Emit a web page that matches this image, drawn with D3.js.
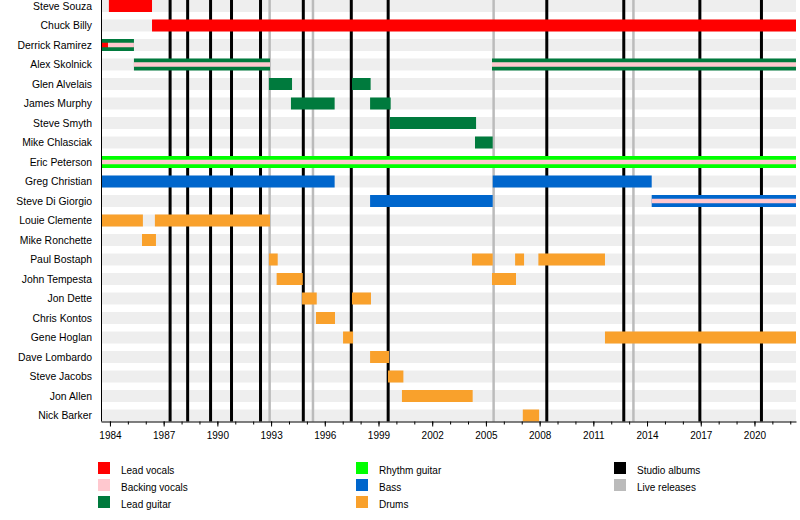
<!DOCTYPE html>
<html>
<head>
<meta charset="utf-8">
<script src="https://cdn.jsdelivr.net/npm/d3@7"></script>
<style>
  body { margin: 0; background: #fff; }
  text { font-family: "Liberation Sans", Arial, sans-serif; font-size: 10px; fill: #000; }
</style>
</head>
<body>
<div id="chart"></div>
<script>
var members = ["Steve Souza", "Chuck Billy", "Derrick Ramirez", "Alex Skolnick", "Glen Alvelais",
  "James Murphy", "Steve Smyth", "Mike Chlasciak", "Eric Peterson", "Greg Christian",
  "Steve Di Giorgio", "Louie Clemente", "Mike Ronchette", "Paul Bostaph", "John Tempesta",
  "Jon Dette", "Chris Kontos", "Gene Hoglan", "Dave Lombardo", "Steve Jacobs", "Jon Allen", "Nick Barker"];

var roles = ["Lead vocals", "Backing vocals", "Lead guitar", "Rhythm guitar", "Bass", "Drums"];
var roleColours = ["#ff0000", "#ffc8cf", "#007a3d", "#00ff00", "#0066cc", "#f9a12c"];

var startYear = 1983.5;
var endYear = 2022.32;

// main bars: member, role, from, to
var periods = [
  ["Steve Souza", "Lead vocals", 1983.94, 1986.35],
  ["Chuck Billy", "Lead vocals", 1986.35, endYear],
  ["Derrick Ramirez", "Lead guitar", startYear, 1985.34],
  ["Alex Skolnick", "Lead guitar", 1985.34, 1992.94],
  ["Alex Skolnick", "Lead guitar", 2005.34, endYear],
  ["Glen Alvelais", "Lead guitar", 1992.88, 1994.17],
  ["Glen Alvelais", "Lead guitar", 1997.52, 1998.56],
  ["James Murphy", "Lead guitar", 1994.11, 1996.55],
  ["James Murphy", "Lead guitar", 1998.53, 1999.68],
  ["Steve Smyth", "Lead guitar", 1999.64, 2004.45],
  ["Mike Chlasciak", "Lead guitar", 2004.39, 2005.38],
  ["Eric Peterson", "Rhythm guitar", startYear, endYear],
  ["Greg Christian", "Bass", startYear, 1996.55],
  ["Greg Christian", "Bass", 2005.38, 2014.26],
  ["Steve Di Giorgio", "Bass", 1998.53, 2005.38],
  ["Steve Di Giorgio", "Bass", 2014.26, endYear],
  ["Louie Clemente", "Drums", startYear, 1985.84],
  ["Louie Clemente", "Drums", 1986.51, 1992.94],
  ["Mike Ronchette", "Drums", 1985.79, 1986.57],
  ["Paul Bostaph", "Drums", 1992.88, 1993.37],
  ["Paul Bostaph", "Drums", 2004.22, 2005.38],
  ["Paul Bostaph", "Drums", 2006.63, 2007.13],
  ["Paul Bostaph", "Drums", 2007.93, 2011.65],
  ["John Tempesta", "Drums", 1993.31, 1994.77],
  ["John Tempesta", "Drums", 2005.34, 2006.68],
  ["Jon Dette", "Drums", 1994.73, 1995.55],
  ["Jon Dette", "Drums", 1997.52, 1998.58],
  ["Chris Kontos", "Drums", 1995.51, 1996.57],
  ["Gene Hoglan", "Drums", 1997.02, 1997.58],
  ["Gene Hoglan", "Drums", 2011.65, endYear],
  ["Dave Lombardo", "Drums", 1998.53, 1999.59],
  ["Steve Jacobs", "Drums", 1999.53, 2000.39],
  ["Jon Allen", "Drums", 2000.31, 2004.26],
  ["Nick Barker", "Drums", 2007.06, 2007.97]
];

// secondary roles drawn as thin inner bars
var secondary = [
  ["Derrick Ramirez", "Lead vocals", startYear, 1983.89],
  ["Derrick Ramirez", "Backing vocals", 1983.89, 1985.34],
  ["Alex Skolnick", "Backing vocals", 1985.34, 1992.94],
  ["Alex Skolnick", "Backing vocals", 2005.34, endYear],
  ["Eric Peterson", "Backing vocals", startYear, endYear],
  ["Steve Di Giorgio", "Backing vocals", 2014.26, endYear]
];

var studioAlbums = [1987.36, 1988.34, 1989.62, 1990.79, 1992.41, 1994.8, 1997.48, 1999.54, 2008.4, 2012.7, 2016.95, 2020.39];
var liveReleases = [1992.92, 1995.34, 2005.43, 2013.24];

var majorTicks = d3.range(1984, 2021, 3);
var minorTicks = d3.range(1984, 2023, 1);

var legendItems = [
  ["Lead vocals", "#ff0000"], ["Backing vocals", "#ffc8cf"], ["Lead guitar", "#007a3d"],
  ["Rhythm guitar", "#00ff00"], ["Bass", "#0066cc"], ["Drums", "#f9a12c"],
  ["Studio albums", "#000000"], ["Live releases", "#bbbbbb"]
];

var width = 800, height = 520;
var plotLeft = 101, plotRight = 796;

var colour = d3.scaleOrdinal().domain(roles).range(roleColours);

var x = d3.scaleLinear().domain([startYear, endYear]).range([plotLeft, plotRight]);
var y = d3.scaleBand().domain(members).range([0, 421.5]).paddingInner(0.385).paddingOuter(0).align(0);
var bh = y.bandwidth();
var innerH = 4.5;

var svg = d3.select("#chart").append("svg")
  .attr("width", width)
  .attr("height", height);

// row backgrounds
svg.append("g").selectAll("rect")
  .data(members)
  .enter().append("rect")
  .attr("x", plotLeft)
  .attr("y", function(d) { return y(d); })
  .attr("width", plotRight - plotLeft)
  .attr("height", bh)
  .attr("fill", "#eeeeee");

// release lines
svg.append("g").selectAll("line")
  .data(liveReleases)
  .enter().append("line")
  .attr("x1", function(d) { return x(d); })
  .attr("x2", function(d) { return x(d); })
  .attr("y1", 0)
  .attr("y2", y.range()[1])
  .attr("stroke", "#bbbbbb")
  .attr("stroke-width", 2.5);

svg.append("g").selectAll("line")
  .data(studioAlbums)
  .enter().append("line")
  .attr("x1", function(d) { return x(d); })
  .attr("x2", function(d) { return x(d); })
  .attr("y1", 0)
  .attr("y2", y.range()[1])
  .attr("stroke", "#000")
  .attr("stroke-width", 3);

// member bars
svg.append("g").selectAll("rect")
  .data(periods)
  .enter().append("rect")
  .attr("x", function(d) { return x(d[2]); })
  .attr("y", function(d) { return y(d[0]); })
  .attr("width", function(d) { return x(d[3]) - x(d[2]); })
  .attr("height", bh)
  .attr("fill", function(d) { return colour(d[1]); });

svg.append("g").selectAll("rect")
  .data(secondary)
  .enter().append("rect")
  .attr("x", function(d) { return x(d[2]); })
  .attr("y", function(d) { return y(d[0]) + (bh - innerH) / 2; })
  .attr("width", function(d) { return x(d[3]) - x(d[2]); })
  .attr("height", innerH)
  .attr("fill", function(d) { return colour(d[1]); });

// member names
svg.append("g").selectAll("text")
  .data(members)
  .enter().append("text")
  .attr("x", 92)
  .attr("y", function(d) { return y(d) + bh / 2; })
  .attr("dy", "0.35em")
  .attr("text-anchor", "end")
  .style("font-size", "10.4px")
  .text(function(d) { return d; });

// left axis line
svg.append("line")
  .attr("x1", plotLeft + 0.5).attr("x2", plotLeft + 0.5)
  .attr("y1", 0).attr("y2", y.range()[1])
  .attr("stroke", "#000");

// bottom axis
var axisY = y.range()[1];
svg.append("g")
  .attr("transform", "translate(0," + axisY + ")")
  .call(d3.axisBottom(x).tickValues(minorTicks).tickSize(3).tickSizeOuter(0).tickFormat(""))
  .call(function(g) { g.select(".domain").remove(); });

var xAxis = svg.append("g")
  .attr("transform", "translate(0," + axisY + ")")
  .call(d3.axisBottom(x).tickValues(majorTicks).tickSize(5).tickSizeOuter(0).tickPadding(5).tickFormat(d3.format("d")));
xAxis.selectAll("text").style("font-family", "'Liberation Sans', Arial, sans-serif").style("font-size", "10px");
xAxis.select(".domain").attr("stroke", "#000");

// legend
var legendCols = [98, 356, 614];
var legend = svg.append("g").selectAll("g")
  .data(legendItems)
  .enter().append("g")
  .attr("transform", function(d, i) {
    var col = Math.floor(i / 3), row = i % 3;
    return "translate(" + legendCols[col] + "," + (462 + row * 17) + ")";
  });

legend.append("rect")
  .attr("width", 12)
  .attr("height", 12)
  .attr("fill", function(d) { return d[1]; });

legend.append("text")
  .attr("x", 23)
  .attr("y", 8)
  .attr("dy", "0.35em")
  .text(function(d) { return d[0]; });
</script>
</body>
</html>
